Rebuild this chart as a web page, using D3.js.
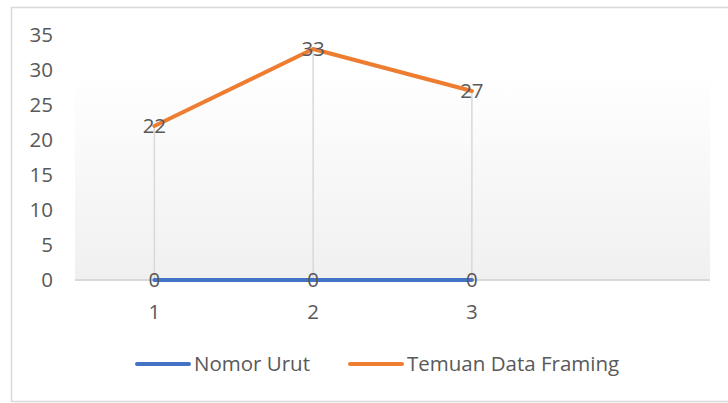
<!DOCTYPE html>
<html>
<head>
<meta charset="utf-8">
<script src="https://cdn.jsdelivr.net/npm/d3@7"></script>
<style>
  html, body { margin: 0; padding: 0; background: #fff; }
  svg { display: block; }
</style>
</head>
<body>
<svg id="chart"></svg>
<script>
// Data
var categories = ["1", "2", "3", ""];
var nomorUrut = [0, 0, 0];
var temuanDataFraming = [22, 33, 27];
var yTicks = [0, 5, 10, 15, 20, 25, 30, 35];
var seriesNames = ["Nomor Urut", "Temuan Data Framing"];

(function () {
  "use strict";

  var width = 728, height = 403;
  var C = {
    blue: "#4472C4",
    orange: "#ED7D31",
    text: "#595959",
    grid: "#d9d9d9",
    border: "#d9d9d9"
  };
  var font = "'Open Sans', sans-serif";
  var fs = "20.5px";

  var svg = d3.select("#chart").attr("width", width).attr("height", height);

  // chart border
  svg.append("rect")
    .attr("x", 11.5).attr("y", 7.5)
    .attr("width", 730).attr("height", 394)
    .attr("fill", "#fff").attr("stroke", C.border).attr("stroke-width", 1.5);

  var plot = { left: 75, right: 710, top: 35, bottom: 280 };

  var x = d3.scaleBand().domain(categories).range([plot.left, plot.right]);
  var y = d3.scaleLinear().domain([0, 35]).range([plot.bottom, plot.top]);
  function cx(i) { return x(categories[i]) + x.bandwidth() / 2; }

  // plot area gradient
  var defs = svg.append("defs");
  var grad = defs.append("linearGradient").attr("id", "plotGrad")
    .attr("x1", 0).attr("y1", 0).attr("x2", 0).attr("y2", 1);
  grad.append("stop").attr("offset", "0%").attr("stop-color", "#ffffff");
  grad.append("stop").attr("offset", "15%").attr("stop-color", "#ffffff");
  grad.append("stop").attr("offset", "100%").attr("stop-color", "#f0f0f0");

  svg.append("rect")
    .attr("x", plot.left).attr("y", plot.top)
    .attr("width", plot.right - plot.left).attr("height", plot.bottom - plot.top)
    .attr("fill", "url(#plotGrad)");

  // x axis line
  svg.append("line")
    .attr("x1", plot.left).attr("x2", plot.right)
    .attr("y1", y(0)).attr("y2", y(0))
    .attr("stroke", C.grid).attr("stroke-width", 2);

  // y tick labels
  svg.append("g").selectAll("text")
    .data(yTicks)
    .join("text")
    .attr("x", 53)
    .attr("y", function (d) { return y(d); })
    .attr("dy", "0.35em")
    .attr("text-anchor", "end")
    .attr("font-family", font)
    .attr("font-size", fs)
    .attr("fill", C.text)
    .text(function (d) { return d; });

  // x tick labels
  svg.append("g").selectAll("text")
    .data(categories.filter(function (c) { return c !== ""; }))
    .join("text")
    .attr("x", function (d) { return x(d) + x.bandwidth() / 2; })
    .attr("y", 312)
    .attr("dy", "0.35em")
    .attr("text-anchor", "middle")
    .attr("font-family", font)
    .attr("font-size", fs)
    .attr("fill", C.text)
    .text(function (d) { return d; });

  // drop lines
  svg.append("g").selectAll("line")
    .data(temuanDataFraming)
    .join("line")
    .attr("x1", function (d, i) { return cx(i); })
    .attr("x2", function (d, i) { return cx(i); })
    .attr("y1", function (d) { return y(d); })
    .attr("y2", y(0))
    .attr("stroke", C.grid)
    .attr("stroke-width", 1.5);

  var line = d3.line()
    .x(function (d, i) { return cx(i); })
    .y(function (d) { return y(d); });

  var series = [
    { name: seriesNames[0], values: nomorUrut, color: C.blue },
    { name: seriesNames[1], values: temuanDataFraming, color: C.orange }
  ];

  series.forEach(function (s) {
    svg.append("path")
      .datum(s.values)
      .attr("d", line)
      .attr("fill", "none")
      .attr("stroke", s.color)
      .attr("stroke-width", 4)
      .attr("stroke-linejoin", "round")
      .attr("stroke-linecap", "round");
  });

  // data labels
  series.forEach(function (s) {
    svg.append("g").selectAll("text")
      .data(s.values)
      .join("text")
      .attr("x", function (d, i) { return cx(i); })
      .attr("y", function (d) { return y(d); })
      .attr("dy", "0.35em")
      .attr("text-anchor", "middle")
      .attr("font-family", font)
      .attr("font-size", fs)
      .attr("fill", C.text)
      .text(function (d) { return d; });
  });

  // legend
  var legendItems = [
    { x: 137, color: C.blue, name: seriesNames[0] },
    { x: 350, color: C.orange, name: seriesNames[1] }
  ];
  var lg = svg.append("g").selectAll("g")
    .data(legendItems)
    .join("g")
    .attr("transform", function (d) { return "translate(" + d.x + ",364)"; });
  lg.append("line")
    .attr("x1", 0).attr("x2", 52)
    .attr("stroke", function (d) { return d.color; })
    .attr("stroke-width", 4)
    .attr("stroke-linecap", "round");
  lg.append("text")
    .attr("x", 57)
    .attr("dy", "0.35em")
    .attr("font-family", font)
    .attr("font-size", fs)
    .attr("fill", C.text)
    .text(function (d) { return d.name; });
})();
</script>
</body>
</html>
